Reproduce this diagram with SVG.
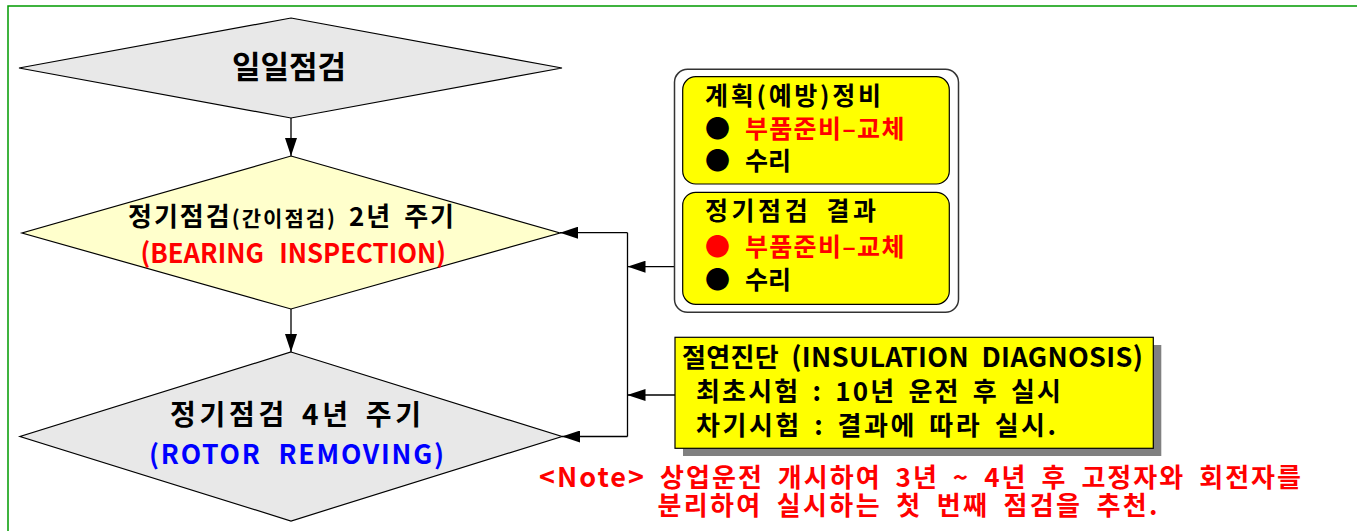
<svg xmlns="http://www.w3.org/2000/svg" width="1357" height="531" viewBox="0 0 1357 531">
<style>
  text { font-family: "Noto Sans CJK KR", "Noto Sans", sans-serif; font-weight: bold; fill: #000; }
  .red { fill: #ff0000; }
  .blue { fill: #0000ff; }
  .dia { stroke: #000; stroke-width: 1.2; }
  .line { fill: none; stroke: #000; stroke-width: 1.3; }
  .ybox { fill: #ffff00; stroke: #000; stroke-width: 1.2; }
</style>
<defs>
  <marker id="arr" markerUnits="userSpaceOnUse" markerWidth="18" markerHeight="12" refX="18" refY="6" orient="auto">
    <path d="M0,0 L18,6 L0,12 Z" fill="#000"/>
  </marker>
</defs>
<rect x="0" y="0" width="1357" height="531" fill="#fff"/>
<rect x="8" y="6" width="1400" height="600" fill="none" stroke="#009a00" stroke-width="1.5"/>

<g id="connectors">
  <line class="line" x1="291" y1="118" x2="291" y2="156" marker-end="url(#arr)"/>
  <line class="line" x1="291" y1="309" x2="291" y2="352" marker-end="url(#arr)"/>
  <polyline class="line" points="627.5,436.5 627.5,232.7"/>
  <line class="line" x1="627.5" y1="232.7" x2="560" y2="232.7" marker-end="url(#arr)"/>
  <line class="line" x1="627.5" y1="436.5" x2="562" y2="436.5" marker-end="url(#arr)"/>
  <line class="line" x1="675" y1="266.7" x2="627.5" y2="266.7" marker-end="url(#arr)"/>
  <line class="line" x1="675" y1="395" x2="627.5" y2="395" marker-end="url(#arr)"/>
</g>

<g id="daily">
  <polygon class="dia" fill="#e8e8e8" points="291,18 562,68 291,118 19,68"/>
  <text x="232" y="78" font-size="31" textLength="114">일일점검</text>
</g>

<g id="bearing">
  <polygon class="dia" fill="#ffffcc" points="291,156 560,233 291,309 22,233"/>
  <text x="128" y="226" font-size="26" textLength="326" style="word-spacing:4px">정기점검<tspan font-size="21">(간이점검)</tspan> 2년 주기</text>
  <text x="140.5" y="263" font-size="27" textLength="305.5" lengthAdjust="spacingAndGlyphs" class="red" style="word-spacing:10px">(BEARING INSPECTION)</text>
</g>

<g id="rotor">
  <polygon class="dia" fill="#e8e8e8" points="291,352 562,436.5 291,521 20,436.5"/>
  <text x="170" y="424.5" font-size="28" textLength="251" style="word-spacing:4px">정기점검 4년 주기</text>
  <text x="149" y="463.5" font-size="26.5" textLength="295" class="blue" style="word-spacing:9px">(ROTOR REMOVING)</text>
</g>

<g id="maintenance">
  <rect x="674.5" y="69.3" width="284" height="243" rx="13" ry="13" fill="#fff" stroke="#333" stroke-width="1.5"/>
  <rect class="ybox" x="682.7" y="76.7" width="266.6" height="107.3" rx="13" ry="13"/>
  <rect class="ybox" x="682.7" y="192.3" width="266.6" height="112" rx="13" ry="13"/>
  <text x="705" y="104.5" font-size="25" textLength="176">계획(예방)정비</text>
  <text y="137.5" font-size="25"><tspan x="705" font-size="25">●</tspan><tspan x="745" class="red" letter-spacing="1.3">부품준비–교체</tspan></text>
  <text y="170" font-size="25"><tspan x="705" font-size="25">●</tspan><tspan x="745">수리</tspan></text>
  <text x="705" y="219.5" font-size="25" textLength="171" style="word-spacing:6px">정기점검 결과</text>
  <text y="256" font-size="25"><tspan x="705" font-size="25" class="red">●</tspan><tspan x="745" class="red" letter-spacing="1.3">부품준비–교체</tspan></text>
  <text y="289" font-size="25"><tspan x="705" font-size="25">●</tspan><tspan x="745">수리</tspan></text>
</g>

<g id="insulation">
  <rect x="683" y="345" width="478.3" height="111" fill="#808080"/>
  <rect class="ybox" x="675" y="337.3" width="478.3" height="111" stroke-width="1.5"/>
  <text x="682" y="367" font-size="26" textLength="461" style="word-spacing:6px">절연진단 <tspan font-size="27">(INSULATION DIAGNOSIS)</tspan></text>
  <text x="696" y="401" font-size="26" textLength="365" style="word-spacing:4px">최초시험 : 10년 운전 후 실시</text>
  <text x="696" y="435" font-size="26" textLength="360" style="word-spacing:4px">차기시험 : 결과에 따라 실시.</text>
</g>

<g id="note">
  <text x="539" y="486.5" font-size="26" textLength="762" class="red" style="word-spacing:6px"><tspan font-size="27">&lt;Note&gt;</tspan> 상업운전 개시하여 3년 ~ 4년 후 고정자와 회전자를</text>
  <text x="657.5" y="515" font-size="26" textLength="500" class="red" style="word-spacing:6px">분리하여 실시하는 첫 번째 점검을 추천.</text>
</g>
</svg>
